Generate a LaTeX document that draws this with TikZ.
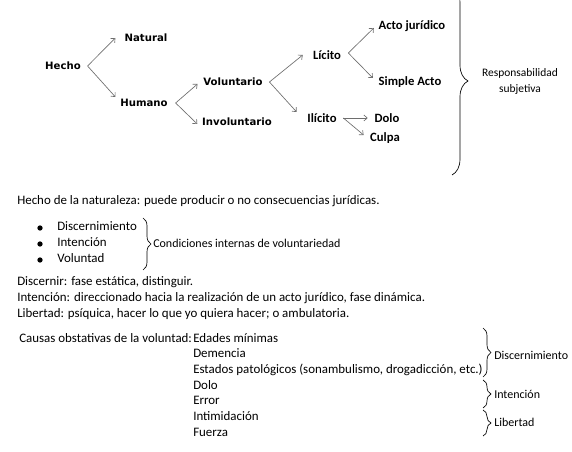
\documentclass[tikz,border=0pt]{standalone}
\usepackage{fontspec}
\setmainfont{Carlito}
\newfontfamily\verdanafont{DejaVu Sans}
\usetikzlibrary{arrows.meta,decorations.pathreplacing}
\definecolor{arrowgray}{RGB}{110,110,110}
\tikzset{
    classbold/.style={font=\verdanafont\bfseries\fontsize{7.6}{9}\selectfont,inner sep=1pt},
    subbold/.style={font=\bfseries\fontsize{9.5}{11}\selectfont,inner sep=1pt},
    bodytext/.style={font=\fontsize{9.7}{11}\selectfont,inner sep=0pt,anchor=base west},
    sidelabel/.style={font=\fontsize{9}{11}\selectfont,inner sep=0pt,anchor=west},
    branch/.style={-{Straight Barb[length=2.5pt,width=4.5pt]},arrowgray,line width=0.5pt},
    bracebig/.style={decorate,decoration={brace,amplitude=12pt},line width=0.5pt},
    bracesmall/.style={decorate,decoration={brace,amplitude=6pt},line width=0.5pt},
    bulletpt/.style={circle,fill=black,inner sep=1.4pt}
}

\begin{document}
\begin{tikzpicture}[x=0.75pt,y=-0.75pt]
    \useasboundingbox (0,0) rectangle (572,452);
    % Classification tree
    \node[classbold] (hecho) at (63,66) {Hecho};
    \node[classbold] (natural) at (146,38) {Natural};
    \node[classbold] (humano) at (144,103) {Humano};
    \node[classbold] (voluntario) at (233,82) {Voluntario};
    \node[classbold] (involuntario) at (237,122) {Involuntario};
    \node[subbold] (licito) at (327,55) {Lícito};
    \node[subbold] (ilicito) at (322,118) {Ilícito};
    \node[subbold] (actojur) at (412,26) {Acto jurídico};
    \node[subbold] (simpleacto) at (410,82) {Simple Acto};
    \node[subbold] (dolo) at (387,118) {Dolo};
    \node[subbold] (culpa) at (385,138) {Culpa};
    % Branches
    \draw[branch] ([xshift=3.9pt]hecho.east) -- ([xshift=-5.8pt]natural.west);
    \draw[branch] ([xshift=3.9pt]hecho.east) -- ([xshift=-2.5pt,yshift=4.5pt]humano.west);
    \draw[branch] ([xshift=4.8pt]humano.east) -- ([xshift=-3.2pt,yshift=-1.5pt]voluntario.west);
    \draw[branch] ([xshift=4.8pt]humano.east) -- ([xshift=-2.5pt,yshift=-1.5pt]involuntario.west);
    \draw[branch] ([xshift=3.9pt]voluntario.east) -- ([xshift=-6.5pt]licito.west);
    \draw[branch] ([xshift=3.9pt]voluntario.east) -- ([xshift=-6.9pt,yshift=4.5pt]ilicito.west);
    \draw[branch] ([xshift=4.3pt,yshift=1.5pt]licito.east) -- ([xshift=-2.5pt,yshift=-1.5pt]actojur.west);
    \draw[branch] ([xshift=4.3pt,yshift=1.5pt]licito.east) -- ([xshift=-3.2pt,yshift=3pt]simpleacto.west);
    \draw[branch] ([xshift=3.9pt]ilicito.east) -- ([xshift=-4pt]dolo.west);
    \draw[branch] ([xshift=3.9pt]ilicito.east) -- ([xshift=-3.7pt,yshift=2.25pt]culpa.west);
    % Big brace
    \coordinate (bigtop) at (452,-13);
    \coordinate (bigbot) at (452,175);
    \draw[bracebig] (bigtop) -- (bigbot);
    \node[font=\fontsize{8.6}{12}\selectfont,align=center] (respons) at (520,82) {Responsabilidad\\subjetiva};
    % Notes
    \node[bodytext] (naturaleza) at (17,205) {Hecho de la naturaleza: puede producir o no consecuencias jurídicas.};
    \node[bulletpt] (bul1) at (40,228) {};
    \node[bulletpt] (bul2) at (40,244) {};
    \node[bulletpt] (bul3) at (40,260) {};
    \node[bodytext] (discern) at (57,231) {Discernimiento};
    \node[bodytext] (intenc) at (57,247) {Intención};
    \node[bodytext] (volunt) at (57,263) {Voluntad};
    \coordinate (condtop) at (143,218);
    \coordinate (condbot) at (143,270);
    \draw[bracesmall] (condtop) -- (condbot);
    \node[sidelabel] (condic) at (153,243) {Condiciones internas de voluntariedad};
    \node[bodytext] (defdisc) at (17,286) {Discernir: fase estática, distinguir.};
    \node[bodytext] (definte) at (17,302) {Intención: direccionado hacia la realización de un acto jurídico, fase dinámica.};
    \node[bodytext] (deflib) at (17,318) {Libertad: psíquica, hacer lo que yo quiera hacer; o ambulatoria.};
    % Causas obstativas
    \node[bodytext] (causas) at (19,343) {Causas obstativas de la voluntad:};
    \node[bodytext] (edades) at (193,343) {Edades mínimas};
    \node[bodytext] (demencia) at (193,358) {Demencia};
    \node[bodytext] (estados) at (193,374) {Estados patológicos (sonambulismo, drogadicción, etc.)};
    \node[bodytext] (dolocausa) at (193,390) {Dolo};
    \node[bodytext] (error) at (193,405) {Error};
    \node[bodytext] (intimid) at (193,421) {Intimidación};
    \node[bodytext] (fuerza) at (193,437) {Fuerza};
    % Right braces
    \coordinate (disctop) at (483,328);
    \coordinate (discbot) at (483,377);
    \coordinate (intetop) at (483,380);
    \coordinate (intebot) at (483,408);
    \coordinate (libtop) at (483,410);
    \coordinate (libbot) at (483,436);
    \draw[bracesmall] (disctop) -- (discbot);
    \draw[bracesmall] (intetop) -- (intebot);
    \draw[bracesmall] (libtop) -- (libbot);
    \node[sidelabel] (lbdisc) at (494,355) {Discernimiento};
    \node[sidelabel] (lbinte) at (494,394) {Intención};
    \node[sidelabel] (lblib) at (494,422) {Libertad};
\end{tikzpicture}
\end{document}
